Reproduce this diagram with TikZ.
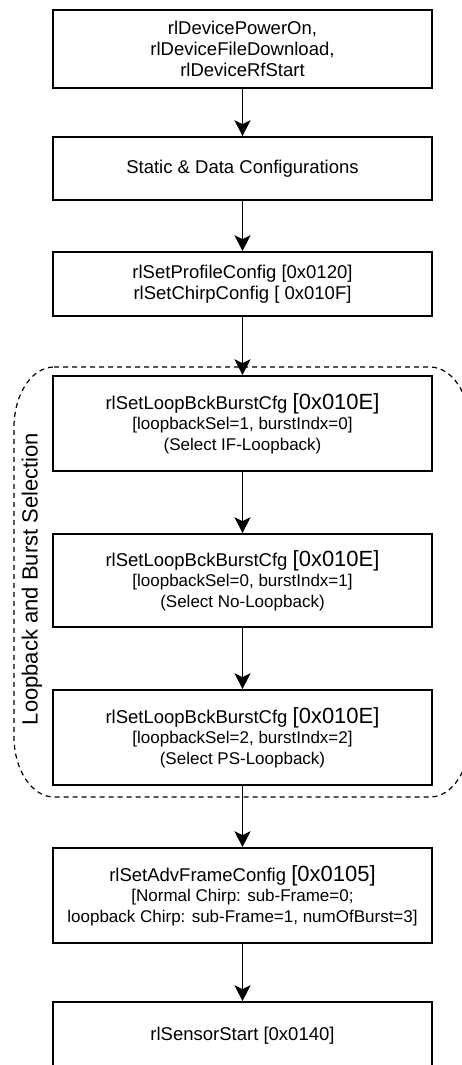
\documentclass[tikz,border=0pt]{standalone}
\usepackage{fontspec}
\setmainfont{Liberation Sans}
\usetikzlibrary{arrows.meta}
\newcommand{\bigcode}[1]{{\fontsize{22}{24}\selectfont #1}}
\newcommand{\smallline}[1]{{\fontsize{17}{20}\selectfont #1}}
\begin{document}
\begin{tikzpicture}[x=1pt,y=-1pt,
  stepbox/.style={draw=black,line width=1.6pt,minimum width=379pt,align=center,inner sep=0pt,
    font=\fontsize{18.5}{21}\selectfont},
  flow/.style={-{Stealth[length=16pt,width=16pt,inset=4pt]},line width=1.6pt}]
\useasboundingbox (0,0) rectangle (462,1065);
\clip (0,0) rectangle (462,1065);
% the dashed group round the three loopback steps
\draw[dash pattern=on 5pt off 4pt,line width=1.2pt]
  (54,367) -- (430,367) .. controls (452,367) and (470,394) .. (470,427)
  -- (470,737) .. controls (470,770) and (452,797) .. (430,797)
  -- (54,797) .. controls (32,797) and (14,770) .. (14,737)
  -- (14,427) .. controls (14,394) and (32,367) .. (54,367) -- cycle;
\node[rotate=90,font=\fontsize{22}{24}\selectfont] (grouplabel) at (32,579) {Loopback and Burst Selection};
% the steps
\node[stepbox,minimum height=78pt] (poweron) at (242.5,49) {rlDevicePowerOn,\\rlDeviceFileDownload,\\rlDeviceRfStart};
\node[stepbox,minimum height=63pt] (staticcfg) at (242.5,168.5) {Static \& Data Configurations};
\node[stepbox,minimum height=64pt] (profilecfg) at (242.5,284) {rlSetProfileConfig [0x0120]\\rlSetChirpConfig [ 0x010F]};
\node[stepbox,minimum height=95pt] (loopif) at (242.5,423.5) {rlSetLoopBckBurstCfg \bigcode{[0x010E]}\\[-1pt]
  \smallline{[loopbackSel=1, burstIndx=0]}\\\smallline{(Select IF-Loopback)}};
\node[stepbox,minimum height=93pt] (loopno) at (242.5,580.5) {rlSetLoopBckBurstCfg \bigcode{[0x010E]}\\[-1pt]
  \smallline{[loopbackSel=0, burstIndx=1]}\\\smallline{(Select No-Loopback)}};
\node[stepbox,minimum height=95pt] (loopps) at (242.5,737.5) {rlSetLoopBckBurstCfg \bigcode{[0x010E]}\\[-1pt]
  \smallline{[loopbackSel=2, burstIndx=2]}\\\smallline{(Select PS-Loopback)}};
\node[stepbox,minimum height=95pt] (advframe) at (242.5,895.5) {rlSetAdvFrameConfig \bigcode{[0x0105]}\\[-1pt]
  \smallline{[Normal Chirp: sub-Frame=0;}\\\smallline{loopback Chirp: sub-Frame=1, numOfBurst=3]}};
\node[stepbox,minimum height=68pt] (sensorstart) at (242.5,1036) {rlSensorStart [0x0140]};
% the arrows between the steps
\draw[flow] (poweron) -- (staticcfg);
\draw[flow] (staticcfg) -- (profilecfg);
\draw[flow] (profilecfg) -- (loopif);
\draw[flow] (loopif) -- (loopno);
\draw[flow] (loopno) -- (loopps);
\draw[flow] (loopps) -- (advframe);
\draw[flow] (advframe) -- (sensorstart);
\end{tikzpicture}
\end{document}
